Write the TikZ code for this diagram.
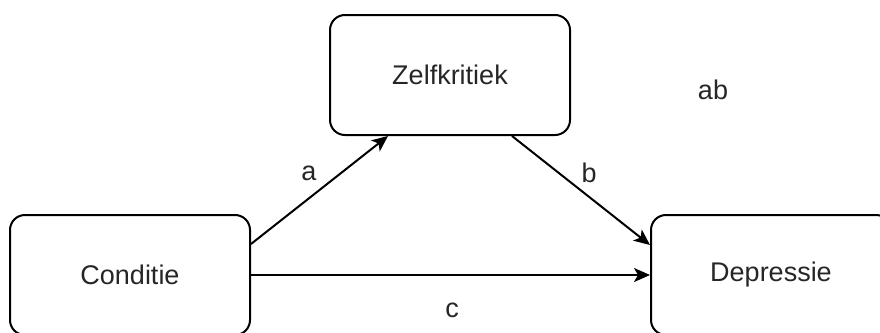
\documentclass[tikz,border=0pt]{standalone}
\usepackage{fontspec}
\setmainfont{Liberation Sans}
\usetikzlibrary{arrows.meta}
\begin{document}
\begin{tikzpicture}[x=1pt,y=-1pt,
  box/.style={draw, line width=2pt, rounded corners=15pt, minimum width=240pt, minimum height=120pt, inner sep=0pt, font=\fontsize{27}{32}\selectfont, text=black!85},
  lbl/.style={inner sep=0pt, font=\fontsize{27}{32}\selectfont, text=black!85},
  conn/.style={line width=2pt, -{Stealth[length=16pt,width=14pt,inset=4pt]}}]
\useasboundingbox (0,0) rectangle (880,332);
\begin{scope}
\clip (0,0) rectangle (880,332);
\node[box] (Z) at (450,75) {Zelfkritiek};
\node[box] (C) at (130,275) {Conditie};
\node[box] (D) at (771,275) {Depressie};
\draw[conn] ([yshift=31pt]C.east) -- ([xshift=-62pt]Z.south);
\draw[conn] ([xshift=62pt]Z.south) -- ([yshift=30pt]D.west);
\draw[conn] (C.east) -- (D.west);
\node[lbl] (la) at (309,173) {a};
\node[lbl] (lb) at (589,173) {b};
\node[lbl] (lc) at (452,310) {c};
\node[lbl] (lab) at (713,90) {ab};
\end{scope}
\end{tikzpicture}
\end{document}
